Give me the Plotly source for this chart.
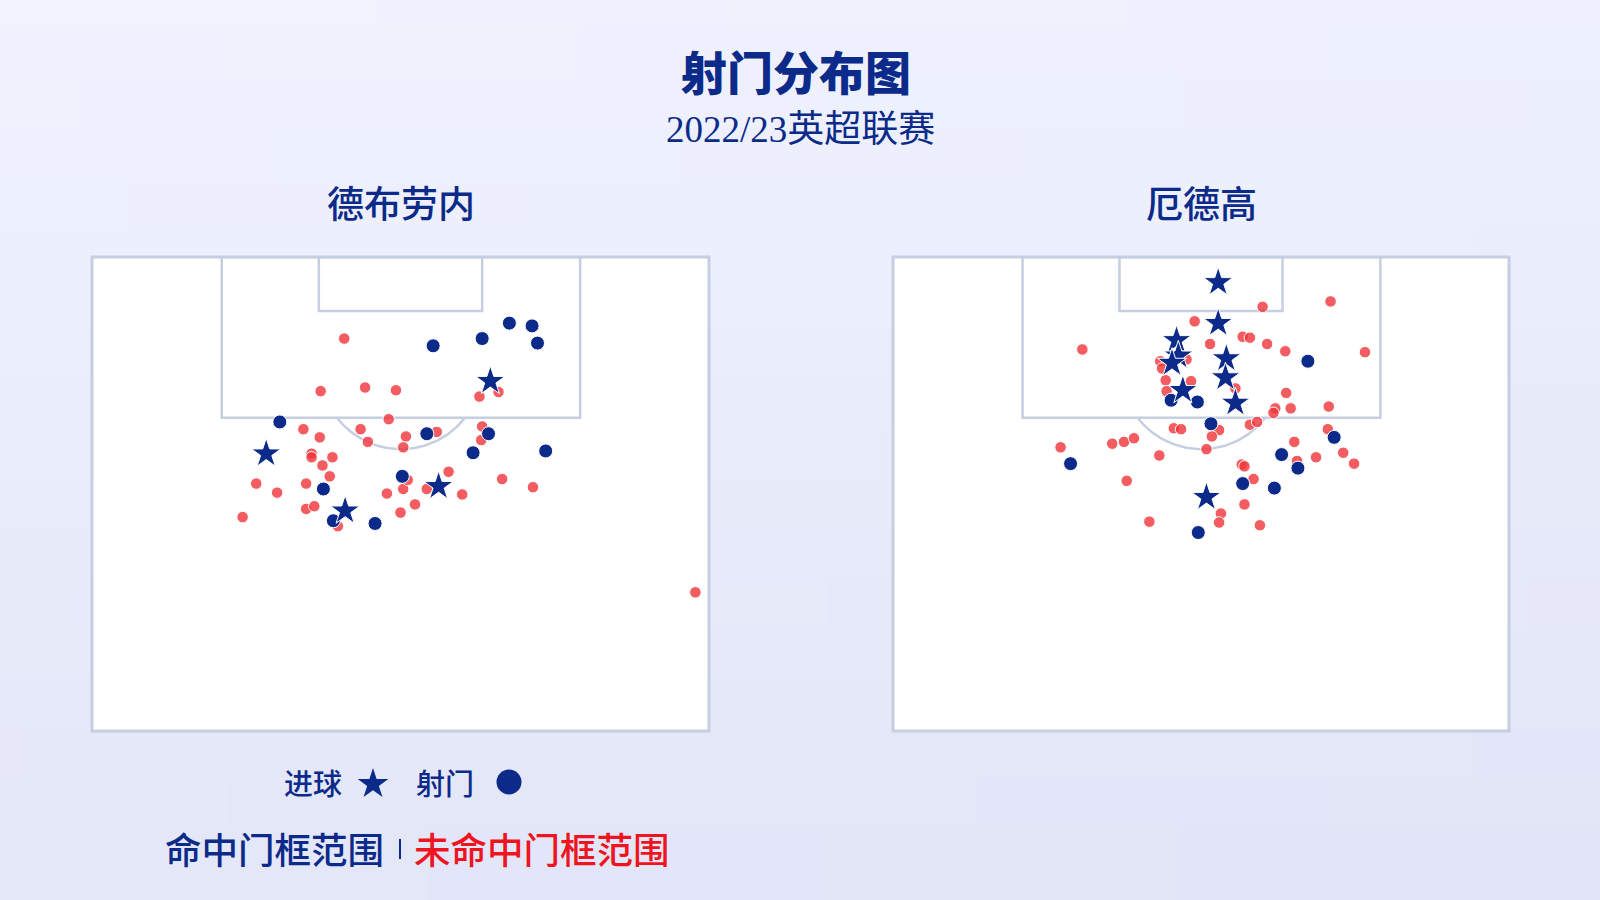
import base64
import struct
import zlib

import numpy as np
import plotly.graph_objects as go

# ---------------- data (pitch metres: x across the pitch, y = distance from goal line) ----------------
PLAYERS = ["德布劳内", "厄德高"]
TITLE = "射门分布图"
SUBTITLE = "2022/23英超联赛"

# De Bruyne
kdb_off_x = [27.8, 25.2, 30.1, 33.5, 32.7, 23.3, 25.1, 29.6, 30.4, 34.6, 34.3, 24.2, 24.2, 26.5, 25.4,
             26.2, 18.1, 23.6, 20.4, 32.5, 34.3, 34.0, 23.6, 24.5, 27.1, 16.6, 44.8, 42.7, 43.0, 42.9,
             38.0, 39.3, 34.8, 36.9, 40.8, 45.2, 48.6, 35.6, 66.5]
kdb_off_y = [9.0, 14.8, 14.4, 14.7, 17.9, 19.0, 19.9, 19.0, 20.4, 19.8, 21.0, 21.7, 22.1, 22.1, 23.0,
             24.2, 25.0, 25.0, 26.0, 26.1, 25.6, 28.2, 27.8, 27.5, 29.7, 28.7, 14.9, 15.4, 18.7, 20.2,
             19.3, 23.7, 24.6, 25.6, 26.2, 24.5, 25.4, 27.3, 37.0]
kdb_on_x = [20.7, 25.5, 34.2, 26.6, 31.2, 37.6, 43.0, 46.0, 48.5, 49.1, 43.7, 36.9, 42.0, 50.0]
kdb_on_y = [18.2, 25.6, 24.2, 29.1, 29.4, 9.8, 9.0, 7.3, 7.6, 9.5, 19.5, 19.5, 21.6, 21.4]
kdb_goal_x = [19.2, 27.9, 43.9, 38.2]
kdb_goal_y = [21.7, 28.0, 13.7, 25.3]

# Ødegaard
ode_off_x = [33.3, 20.9, 40.8, 48.3, 38.6, 39.4, 35.0, 41.3, 43.3, 52.1, 29.5, 29.7, 32.4, 30.1, 30.2,
             32.9, 37.8, 43.4, 43.9, 42.2, 42.0, 48.1, 39.4, 40.2, 36.0, 35.2, 34.6, 31.0, 31.8, 18.5,
             24.2, 25.5, 26.6, 29.4, 25.8, 28.3, 48.0, 44.3, 49.7, 50.9, 46.7, 44.6, 38.5, 38.8, 39.8,
             38.8, 36.2, 36.0, 40.5]
ode_off_y = [7.1, 10.2, 5.5, 4.9, 8.8, 8.9, 9.6, 9.6, 10.4, 10.5, 11.5, 12.3, 11.3, 13.6, 14.8,
             13.7, 14.5, 15.0, 16.7, 16.7, 17.2, 16.5, 18.5, 18.2, 19.1, 19.8, 21.2, 18.9, 19.0, 21.0,
             20.6, 20.4, 20.0, 21.9, 24.7, 29.2, 19.0, 20.4, 21.6, 22.8, 22.1, 22.5, 22.9, 23.1, 24.5,
             27.3, 28.3, 29.3, 29.6]
ode_on_x = [45.8, 30.7, 33.6, 35.1, 19.6, 48.7, 42.9, 44.7, 38.6, 42.1, 33.7]
ode_on_y = [11.5, 15.8, 16.0, 18.4, 22.8, 19.9, 21.8, 23.3, 25.0, 25.5, 30.4]
ode_goal_x = [35.9, 35.9, 31.3, 31.5, 30.8, 32.0, 36.8, 36.7, 37.8, 34.6]
ode_goal_y = [2.8, 7.3, 9.2, 10.9, 11.7, 14.7, 11.2, 13.3, 16.1, 26.5]

LEGEND_GOAL = "进球"
LEGEND_SHOT = "射门"
LEGEND_ON = "命中门框范围"
LEGEND_OFF = "未命中门框范围"

# ---------------- styling ----------------
W, H = 1600, 900
NAVY = "#0b2a8a"
RED_FILL = "rgba(240,52,58,0.80)"
RED_TEXT = "#ee1420"
LINE_C = "#c6cee2"
FONT = "Noto Sans CJK SC"

PITCH_W, PITCH_L = 68.0, 52.3
BOX = (14.3, 53.8, 17.75)
SIX = (25.0, 43.0, 5.95)
ARC_C = (34.05, 12.3)
ARC_R = 8.9

# pixel boxes for the two pitches (left, top, right, bottom)
PITCH_PX = [(92, 257, 709, 731), (893, 257, 1509, 731)]


def gradient_png(w, h, top, bottom):
    rows = []
    for j in range(h):
        t = j / (h - 1)
        row = b""
        for i in range(w):
            s = 0.85 * t + 0.15 * (i / (w - 1))
            c = bytes(int(round(top[k] + (bottom[k] - top[k]) * s)) for k in range(3))
            row += c
        rows.append(b"\x00" + row)
    raw = b"".join(rows)

    def chunk(tag, data):
        return (struct.pack(">I", len(data)) + tag + data
                + struct.pack(">I", zlib.crc32(tag + data) & 0xFFFFFFFF))

    png = (b"\x89PNG\r\n\x1a\n"
           + chunk(b"IHDR", struct.pack(">IIBBBBB", w, h, 8, 2, 0, 0, 0))
           + chunk(b"IDAT", zlib.compress(raw))
           + chunk(b"IEND", b""))
    return "data:image/png;base64," + base64.b64encode(png).decode()


fig = go.Figure()

datasets = [
    (kdb_off_x, kdb_off_y, kdb_on_x, kdb_on_y, kdb_goal_x, kdb_goal_y),
    (ode_off_x, ode_off_y, ode_on_x, ode_on_y, ode_goal_x, ode_goal_y),
]

theta = np.linspace(np.arcsin((BOX[2] - ARC_C[1]) / ARC_R),
                    np.pi - np.arcsin((BOX[2] - ARC_C[1]) / ARC_R), 60)
arc_x = ARC_C[0] + ARC_R * np.cos(theta)
arc_y = ARC_C[1] + ARC_R * np.sin(theta)

shapes = []
annotations = []
for k, (offx, offy, onx, ony, gx, gy) in enumerate(datasets):
    xa = "x" if k == 0 else "x2"
    ya = "y" if k == 0 else "y2"
    # arc
    fig.add_trace(go.Scatter(x=arc_x, y=arc_y, mode="lines", xaxis=xa, yaxis=ya,
                             line=dict(color=LINE_C, width=2.5), hoverinfo="skip", showlegend=False))
    fig.add_trace(go.Scatter(x=offx, y=offy, mode="markers", xaxis=xa, yaxis=ya, showlegend=False,
                             marker=dict(size=11.5, color=RED_FILL, line=dict(color="white", width=1))))
    fig.add_trace(go.Scatter(x=onx, y=ony, mode="markers", xaxis=xa, yaxis=ya, showlegend=False,
                             marker=dict(size=14, color=NAVY, line=dict(color="white", width=1))))
    fig.add_trace(go.Scatter(x=gx, y=gy, mode="markers", xaxis=xa, yaxis=ya, showlegend=False,
                             marker=dict(size=22, symbol="star", color=NAVY,
                                         line=dict(color="white", width=1))))
    # pitch white fill
    shapes.append(dict(type="rect", xref=xa, yref=ya, x0=0, x1=PITCH_W, y0=0, y1=PITCH_L,
                       fillcolor="white", line=dict(width=0), layer="below"))
    shapes.append(dict(type="rect", xref=xa, yref=ya, x0=BOX[0], x1=BOX[1], y0=0, y1=BOX[2],
                       line=dict(color=LINE_C, width=2.5), layer="below"))
    shapes.append(dict(type="rect", xref=xa, yref=ya, x0=SIX[0], x1=SIX[1], y0=0, y1=SIX[2],
                       line=dict(color=LINE_C, width=2.5), layer="below"))
    L, T, R, B = PITCH_PX[k]
    shapes.append(dict(type="rect", xref="x3", yref="y3", x0=L, x1=R, y0=T, y1=B,
                       line=dict(color=LINE_C, width=3), layer="below"))
    annotations.append(dict(xref="x3", yref="y3", x=(L + R) / 2, y=202, text=PLAYERS[k],
                            showarrow=False, xanchor="center", yanchor="middle",
                            font=dict(family=FONT, size=37, color=NAVY, weight=500)))

# legend markers on overlay axis (pixel coordinates)
fig.add_trace(go.Scatter(x=[373], y=[784], mode="markers", xaxis="x3", yaxis="y3", showlegend=False,
                         marker=dict(size=23, symbol="star", color=NAVY), hoverinfo="skip"))
fig.add_trace(go.Scatter(x=[509], y=[782], mode="markers", xaxis="x3", yaxis="y3", showlegend=False,
                         marker=dict(size=25, color=NAVY), hoverinfo="skip"))

annotations += [
    dict(xref="x3", yref="y3", x=796, y=70, text=TITLE, showarrow=False,
         font=dict(family=FONT, size=46, color=NAVY, weight=900)),
    dict(xref="x3", yref="y3", x=800, y=129, text=SUBTITLE, showarrow=False,
         font=dict(family="Liberation Serif, " + FONT, size=37, color=NAVY)),
    dict(xref="x3", yref="y3", x=313, y=782, text=LEGEND_GOAL, showarrow=False,
         font=dict(family=FONT, size=29, color=NAVY, weight=500)),
    dict(xref="x3", yref="y3", x=445, y=782, text=LEGEND_SHOT, showarrow=False,
         font=dict(family=FONT, size=29, color=NAVY, weight=500)),
    dict(xref="x3", yref="y3", x=274, y=848, text=LEGEND_ON, showarrow=False,
         font=dict(family=FONT, size=36.5, color=NAVY, weight=500)),
    dict(xref="x3", yref="y3", x=542, y=848, text=LEGEND_OFF, showarrow=False,
         font=dict(family=FONT, size=36.5, color=RED_TEXT, weight=500)),
]
shapes.append(dict(type="line", xref="x3", yref="y3", x0=400, x1=400, y0=839, y1=859,
                   line=dict(color=NAVY, width=2)))

axis_off = dict(visible=False, showgrid=False, zeroline=False, fixedrange=True)
(L1, T1, R1, B1), (L2, T2, R2, B2) = PITCH_PX
fig.update_layout(
    width=W, height=H, autosize=False,
    margin=dict(l=0, r=0, t=0, b=0, pad=0),
    paper_bgcolor="#eceffb", plot_bgcolor="rgba(0,0,0,0)",
    showlegend=False,
    xaxis=dict(domain=[L1 / W, R1 / W], range=[0, PITCH_W], **axis_off),
    yaxis=dict(domain=[1 - B1 / H, 1 - T1 / H], range=[PITCH_L, 0], **axis_off),
    xaxis2=dict(domain=[L2 / W, R2 / W], range=[0, PITCH_W], **axis_off),
    yaxis2=dict(domain=[1 - B2 / H, 1 - T2 / H], range=[PITCH_L, 0], **axis_off),
    xaxis3=dict(domain=[0, 1], range=[0, W], **axis_off),
    yaxis3=dict(domain=[0, 1], range=[H, 0], **axis_off),
    shapes=shapes,
    annotations=annotations,
    images=[dict(source=gradient_png(32, 18, (240, 243, 254), (226, 229, 247)),
                 xref="paper", yref="paper", x=0, y=1, sizex=1, sizey=1,
                 xanchor="left", yanchor="top", sizing="stretch", layer="below")],
)

fig.write_html("out.html", config={"displayModeBar": False},
               post_script="document.body.style.margin='0';")
